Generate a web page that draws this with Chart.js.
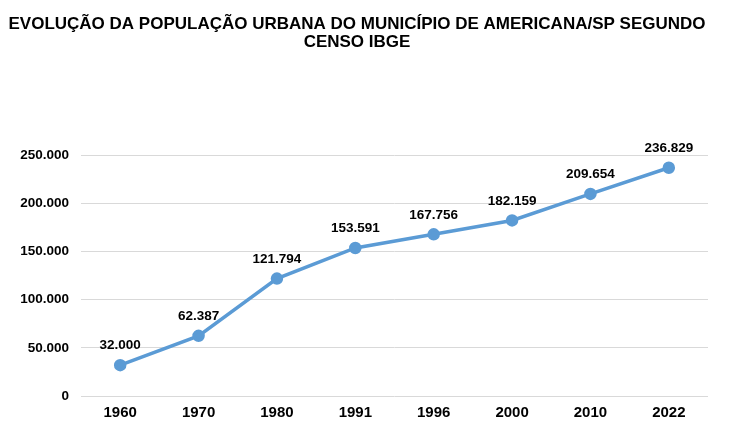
<!DOCTYPE html>
<html>
<head>
<meta charset="utf-8">
<script src="https://cdn.jsdelivr.net/npm/chart.js@4"></script>
<style>
	html, body { margin: 0; padding: 0; background: #fff; }
	#wrap { width: 734px; height: 436px; }
</style>
</head>
<body>
<div id="wrap"><canvas id="chart" width="734" height="436"></canvas></div>
<script>
const anos = ['1960', '1970', '1980', '1991', '1996', '2000', '2010', '2022'];
const populacao = [32000, 62387, 121794, 153591, 167756, 182159, 209654, 236829];
const titulo = [
	'EVOLUÇÃO DA POPULAÇÃO URBANA DO MUNICÍPIO DE AMERICANA/SP SEGUNDO',
	'CENSO IBGE',
];

const fonte = '"Liberation Sans", Arial, sans-serif';

function formatar(n) {
	return String(Math.round(n)).replace(/\B(?=(\d{3})+(?!\d))/g, '.');
}

// rótulos acima dos pontos
const rotulos = {
	id: 'rotulos',
	afterDatasetsDraw(chart) {
		const ctx = chart.ctx;
		const meta = chart.getDatasetMeta(0);
		ctx.save();
		ctx.font = 'bold 13.5px ' + fonte;
		ctx.fillStyle = '#000';
		ctx.textAlign = 'center';
		ctx.textBaseline = 'middle';
		meta.data.forEach((pt, i) => {
			ctx.fillText(formatar(populacao[i]), pt.x, pt.y - 19.5);
		});
		ctx.restore();
	},
};

const config = {
	type: 'line',
	data: {
		labels: anos,
		datasets: [
			{
				data: populacao,
				borderColor: '#5B9BD5',
				backgroundColor: '#5B9BD5',
				borderWidth: 3.5,
				pointRadius: 4.5,
				pointHoverRadius: 4.5,
				tension: 0,
			},
		],
	},
	options: {
		responsive: false,
		animation: false,
		layout: { padding: { left: 6, right: 26, bottom: 6 } },
		plugins: {
			legend: { display: false },
			tooltip: { enabled: false },
			title: {
				display: true,
				text: titulo,
				color: '#000',
				font: { family: fonte, size: 17, weight: 'bold', lineHeight: 1.06 },
				padding: { top: 15, bottom: 104 },
			},
		},
		scales: {
			x: {
				offset: true,
				grid: { display: false, drawTicks: false },
				border: { display: false },
				ticks: {
					color: '#000',
					padding: 8,
					font: { family: fonte, size: 15, weight: 'bold' },
				},
			},
			y: {
				min: 0,
				max: 250000,
				afterFit: (scale) => { scale.width = 75; },
				grid: { color: '#d9d9d9', drawTicks: false },
				border: { display: false },
				ticks: {
					stepSize: 50000,
					color: '#000',
					padding: 12,
					font: { family: fonte, size: 13.5, weight: 'bold' },
					callback: (v) => formatar(v),
				},
			},
		},
	},
	plugins: [rotulos],
};

new Chart(document.getElementById('chart'), config);
</script>
</body>
</html>
